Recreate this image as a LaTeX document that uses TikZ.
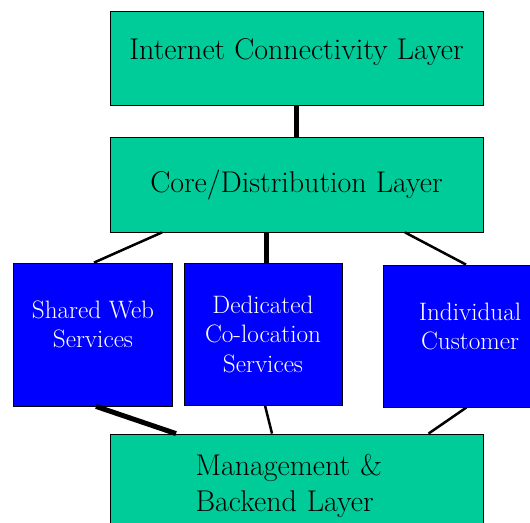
\documentclass[tikz,border=0pt]{standalone}
\usepackage{fontspec}
\definecolor{layergreen}{RGB}{0,204,153}
\definecolor{serviceblue}{RGB}{0,0,255}

\begin{document}
\begin{tikzpicture}[x=1pt,y=-1pt,
    layer/.style={rectangle,draw=black,line width=0.8pt,fill=layergreen,minimum width=373pt,font=\fontsize{30}{36}\selectfont,align=center},
    service/.style={rectangle,draw=black,line width=0.8pt,fill=serviceblue,text=white,font=\fontsize{25.2}{29.5}\selectfont,align=center},
    link/.style={line width=2.5pt},
    trunk/.style={line width=5pt}]
    \useasboundingbox (0,0) rectangle (530,522);
    \clip (0,0) rectangle (530,522);

    % Nodes for the layers
    \node[layer,minimum height=94pt,text depth=18.5pt] (inet) at (296.5,58) {Internet Connectivity Layer};
    \node[layer,minimum height=95pt] (core) at (296.5,184.5) {Core/Distribution Layer};
    \node[layer,minimum height=103pt,inner xsep=85.5pt,inner ysep=0pt,text width=202pt,align=left] (mgmt) at (296.5,485.5) {Management \&\\Backend Layer};

    % Nodes for the services
    \node[service,minimum width=158.5pt,minimum height=143pt,text depth=21pt] (shared) at (93,334.5) {Shared Web\\Services};
    \node[service,minimum width=158pt,minimum height=142pt] (ded) at (263,334) {Dedicated\\Co-location\\Services};
    \node[service,minimum width=174pt,minimum height=142pt,text depth=19pt] (indiv) at (470,336) {Individual\\Customer};

    % Edges between the layers
    \draw[trunk] (inet.south) -- (core.north);

    % Edges from core to the services
    \draw[link] ([xshift=-134.5pt]core.south) -- ([xshift=1pt]shared.north);
    \draw[trunk] ([xshift=-30.5pt]core.south) -- ([xshift=3pt]ded.north);
    \draw[link] ([xshift=108.5pt]core.south) -- ([xshift=-4pt]indiv.north);

    % Edges from the services to management
    \draw[trunk] ([xshift=3pt]shared.south) -- ([xshift=-120.5pt]mgmt.north);
    \draw[link] ([xshift=2pt]ded.south) -- ([xshift=-24.5pt]mgmt.north);
    \draw[link] ([xshift=-3.5pt]indiv.south) -- ([xshift=132pt]mgmt.north);
\end{tikzpicture}
\end{document}
